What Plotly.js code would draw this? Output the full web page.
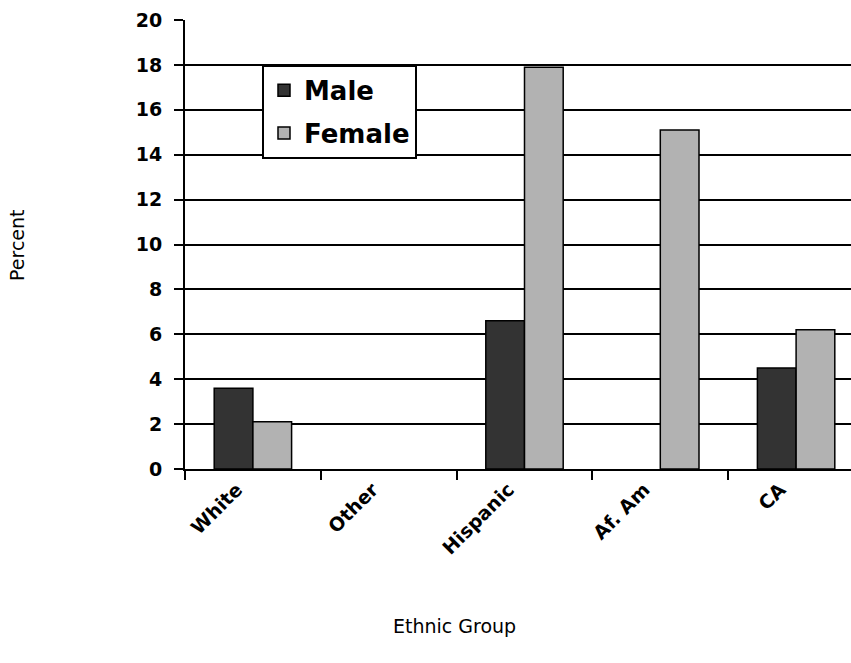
<!DOCTYPE html>
<html>
<head>
<meta charset="utf-8">
<script src="https://cdn.plot.ly/plotly-3.0.1.min.js"></script>
<style>
  html, body { margin: 0; padding: 0; background: #ffffff; overflow: hidden; }
  #chart { width: 880px; height: 663px; }
</style>
</head>
<body>
<div id="chart"></div>
<script>
// Ethnic groups along the x axis
const groups = ["White", "Other", "Hispanic", "Af. Am", "CA"];

// Percent values per group (null = no bar reported)
const maleValues   = [3.6, null, 6.6, null, 4.5];
const femaleValues = [2.1, null, 17.9, 15.1, 6.2];

// Y axis ticks
const yTickValues = [0, 2, 4, 6, 8, 10, 12, 14, 16, 18, 20];

const FONT = "DejaVu Sans, Arial, sans-serif";

const barLine = { color: "#000000", width: 1.5 };

const traces = [
  {
    type: "bar",
    name: "Male",
    legendgroup: "m",
    x: groups,
    y: maleValues,
    marker: { color: "#333333", line: barLine }
  },
  {
    type: "bar",
    name: "Female",
    legendgroup: "f",
    x: groups,
    y: femaleValues,
    marker: { color: "#b2b2b2", line: barLine }
  }
];

const layout = {
  width: 880,
  height: 663,
  margin: { l: 185, r: 16, t: 20, b: 194 },
  paper_bgcolor: "#ffffff",
  plot_bgcolor: "#ffffff",
  barmode: "group",
  bargap: 0.43,
  bargroupgap: 0,
  showlegend: true,
  legend: {
    x: 0.1134, y: 0.9, xanchor: "left", yanchor: "top",
    bgcolor: "#ffffff",
    bordercolor: "#000000",
    borderwidth: 2,
    traceorder: "grouped",
    tracegroupgap: 6,
    font: { family: FONT, size: 26, weight: "bold", color: "#000000" }
  },
  xaxis: {
    type: "category",
    showline: true,
    linecolor: "#000000",
    linewidth: 2,
    ticks: "outside",
    tickson: "boundaries",
    ticklen: 9,
    tickwidth: 2,
    tickcolor: "#000000",
    tickangle: -45,
    ticklabelstandoff: 0,
    ticklabelshift: -16,
    tickfont: { family: FONT, size: 19, weight: "bold", color: "#000000" },
    showgrid: false,
    zeroline: false,
    fixedrange: true
  },
  yaxis: {
    range: [0, 20],
    tickvals: yTickValues,
    ticktext: yTickValues.map(String),
    showline: true,
    linecolor: "#000000",
    linewidth: 2,
    ticks: "outside",
    ticklen: 9,
    tickwidth: 2,
    tickcolor: "#000000",
    ticklabelstandoff: 8,
    tickfont: { family: FONT, size: 19, weight: "bold", color: "#000000" },
    showgrid: true,
    gridcolor: "#000000",
    gridwidth: 2,
    zeroline: false,
    fixedrange: true
  },
  annotations: [
    {
      text: "Ethnic Group",
      xref: "paper", yref: "paper",
      x: 0.3976, y: -0.35,
      xanchor: "center", yanchor: "middle",
      showarrow: false,
      font: { family: FONT, size: 19, color: "#000000" }
    },
    {
      text: "Percent",
      xref: "paper", yref: "paper",
      x: -0.2474, y: 0.499,
      xanchor: "center", yanchor: "middle",
      textangle: -90,
      showarrow: false,
      font: { family: FONT, size: 19, color: "#000000" }
    }
  ]
};

Plotly.newPlot("chart", traces, layout, { staticPlot: true, displayModeBar: false });
</script>
</body>
</html>
